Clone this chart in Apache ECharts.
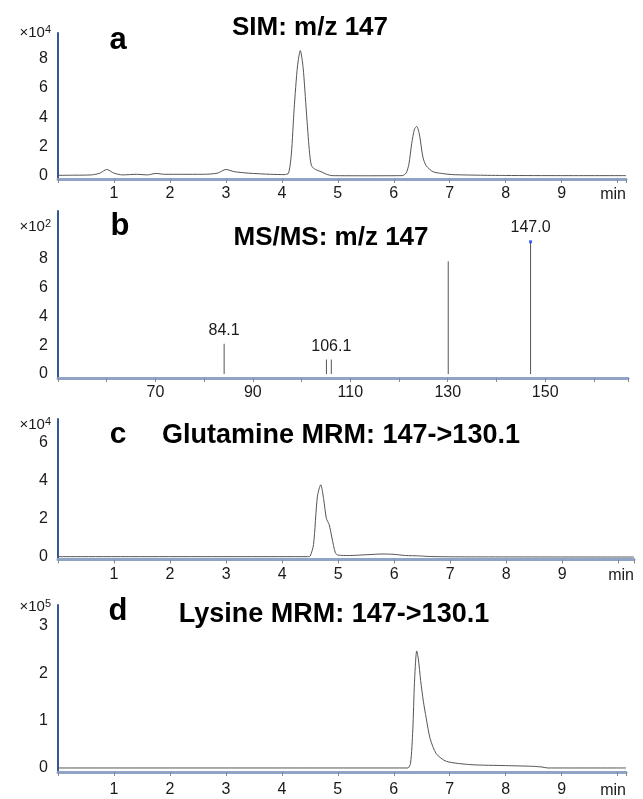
<!DOCTYPE html>
<html><head><meta charset="utf-8">
<script src="https://cdn.jsdelivr.net/npm/echarts@6/dist/echarts.min.js"></script>
<style>html,body{margin:0;padding:0;background:#fff}#c{width:643px;height:799px}</style>
</head><body><div id="c"></div>
<script>
// ---- Panel a: SIM m/z 147 (time / min, intensity x10^4)
const simTime      = [0, 0.3, 0.6, 0.75, 0.87, 1.0, 1.15, 1.4, 1.6, 1.75, 1.9, 2.2, 2.6, 2.85, 3.0, 3.15, 3.4, 3.8, 4.05, 4.12, 4.17, 4.22, 4.28, 4.33, 4.38, 4.44, 4.49, 4.53, 4.6, 4.7, 4.8, 4.9, 5.5, 6.15, 6.22, 6.27, 6.32, 6.37, 6.41, 6.46, 6.52, 6.58, 6.7, 6.85, 7.05, 7.5, 8.0, 9.0, 10.15];
const simIntensity = [0.05, 0.06, 0.08, 0.2, 0.45, 0.2, 0.08, 0.12, 0.08, 0.18, 0.12, 0.12, 0.12, 0.2, 0.45, 0.3, 0.2, 0.12, 0.1, 0.2, 1.5, 4.6, 7.5, 8.55, 7.4, 4.3, 1.8, 0.7, 0.45, 0.3, 0.12, 0.03, 0.02, 0.03, 0.2, 0.8, 2.2, 3.2, 3.38, 2.8, 1.3, 0.7, 0.3, 0.18, 0.1, 0.06, 0.04, 0.03, 0.03];

// ---- Panel b: MS/MS of m/z 147 (m/z, intensity x10^2)
const msmsMz        = [84.1, 105.1, 106.1, 130.1, 147.0];
const msmsIntensity = [2.1, 1.0, 1.0, 7.85, 9.2];
const msmsLabels    = ['84.1', '', '106.1', '', '147.0'];

// ---- Panel c: Glutamine MRM 147->130.1 (time / min, intensity x10^4)
const glnTime      = [0, 4.45, 4.5, 4.56, 4.63, 4.69, 4.74, 4.79, 4.84, 4.89, 4.95, 5.0, 5.2, 5.5, 5.8, 6.0, 6.2, 6.45, 6.6, 7.1, 10.28];
const glnIntensity = [0.02, 0.02, 0.05, 0.65, 3.2, 3.8, 3.07, 2.03, 1.7, 1.0, 0.22, 0.1, 0.08, 0.12, 0.16, 0.14, 0.08, 0.06, 0.03, 0.01, 0.0];

// ---- Panel d: Lysine MRM 147->130.1 (time / min, intensity x10^5)
const lysTime      = [0, 6.25, 6.3, 6.34, 6.37, 6.41, 6.44, 6.48, 6.53, 6.58, 6.65, 6.76, 6.94, 7.38, 8.0, 8.48, 8.65, 8.75, 10.15];
const lysIntensity = [0, 0.0, 0.1, 0.8, 1.8, 2.47, 2.3, 1.85, 1.4, 1.05, 0.62, 0.3, 0.14, 0.07, 0.05, 0.035, 0.02, 0.0, 0];

// ---- Axis tick labels
const yTicksA = [0, 2, 4, 6, 8];
const yTicksB = [0, 2, 4, 6, 8];
const yTicksC = [0, 2, 4, 6];
const yTicksD = [0, 1, 2, 3];
const mzLabelValues = [70, 90, 110, 130, 150];

const titles = ['SIM: m/z 147', 'MS/MS: m/z 147', 'Glutamine MRM: 147->130.1', 'Lysine MRM: 147->130.1'];
const letters = ['a', 'b', 'c', 'd'];
const exponents = ['4', '2', '4', '5'];

const zip = (a, b) => a.map((v, i) => [v, b[i]]);
const FONT = 'Liberation Sans, Arial, sans-serif';
const lblColor = '#1a1a1a';

function xTime(gi, max, margin) {
  return {
    gridIndex: gi, type: 'value', min: 0, max: max, interval: 1,
    axisLine: { onZero: false, lineStyle: { color: '#8fa4c6', width: 3 } },
    axisTick: { show: true, length: 4, lineStyle: { color: '#888', width: 1 } },
    axisLabel: { margin: margin, fontSize: 16, fontFamily: FONT, color: lblColor,
      formatter: v => (Number.isInteger(v) && v >= 1 && v <= 9) ? String(v) : '' },
    splitLine: { show: false },
    name: 'min', nameLocation: 'end', nameGap: 0, nameMoveOverlap: false,
    nameTextStyle: { fontSize: 16, fontFamily: FONT, color: lblColor, align: 'right', verticalAlign: 'top',
      padding: [margin + 1, 0, 0, 0] }
  };
}
function yAx(gi, min, max, ticks, exp, gap) {
  return {
    gridIndex: gi, type: 'value', min: min, max: max,
    axisLine: { show: true, onZero: false, lineStyle: { color: '#34569a', width: 2 } },
    axisTick: { show: false },
    axisLabel: { customValues: ticks, margin: 10, fontSize: 16, fontFamily: FONT, color: lblColor },
    splitLine: { show: false },
    name: '×10{s|' + exp + '}', nameLocation: 'end', nameGap: gap, nameMoveOverlap: false,
    nameTextStyle: { fontSize: 15, fontFamily: FONT, color: lblColor, align: 'right', verticalAlign: 'middle',
      padding: [0, 7, 0, 0],
      rich: { s: { fontSize: 11, fontFamily: FONT, color: lblColor, verticalAlign: 'top', lineHeight: 18 } } }
  };
}

const lineStyle = { color: '#555', width: 1 };

const option = {
  animation: false,
  backgroundColor: '#fff',
  grid: [
    { left: 58, top: 33, width: 568, height: 146 },
    { left: 58, top: 211, width: 570, height: 167 },
    { left: 58, top: 419, width: 576, height: 140.5 },
    { left: 58, top: 605, width: 568, height: 167 }
  ],
  xAxis: [
    xTime(0, 10.15, 7),
    {
      gridIndex: 1, type: 'value', min: 50, max: 167, interval: 10,
      axisLine: { onZero: false, lineStyle: { color: '#8fa4c6', width: 3 } },
      axisTick: { show: true, length: 4, lineStyle: { color: '#888', width: 1 } },
      axisLabel: { margin: 7, fontSize: 16, fontFamily: FONT, color: lblColor,
        formatter: v => mzLabelValues.indexOf(v) >= 0 ? String(v) : '' },
      splitLine: { show: false }
    },
    xTime(2, 10.28, 7),
    xTime(3, 10.15, 10)
  ],
  yAxis: [
    yAx(0, -0.2, 9.75, yTicksA, exponents[0], 0),
    yAx(1, -0.28, 11.34, yTicksB, exponents[1], -16),
    yAx(2, -0.13, 7.26, yTicksC, exponents[2], -6),
    yAx(3, -0.085, 3.44, yTicksD, exponents[3], -2)
  ],
  series: [
    { type: 'line', xAxisIndex: 0, yAxisIndex: 0, data: zip(simTime, simIntensity), showSymbol: false, smooth: 0.25, lineStyle: lineStyle },
    { type: 'bar', xAxisIndex: 1, yAxisIndex: 1, barWidth: 1, itemStyle: { color: '#555' },
      data: msmsMz.map((m, i) => ({ value: [m, msmsIntensity[i]],
        label: { show: msmsLabels[i] !== '', formatter: msmsLabels[i], position: 'top', distance: msmsLabels[i] === '147.0' ? 6 : 5,
          fontSize: 16, fontFamily: FONT, color: lblColor } })) },
    { type: 'scatter', xAxisIndex: 1, yAxisIndex: 1, symbol: 'rect', symbolSize: 3, itemStyle: { color: '#1f3fff' },
      data: [[msmsMz[4], msmsIntensity[4]]] },
    { type: 'line', xAxisIndex: 2, yAxisIndex: 2, data: zip(glnTime, glnIntensity), showSymbol: false, smooth: 0.25, lineStyle: lineStyle },
    { type: 'line', xAxisIndex: 3, yAxisIndex: 3, data: zip(lysTime, lysIntensity), showSymbol: false, smooth: 0.25, lineStyle: lineStyle }
  ],
  graphic: [
    { type: 'text', x: 118, y: 40, style: { text: letters[0], font: 'bold 31px ' + FONT, fill: '#000', align: 'center', verticalAlign: 'middle' } },
    { type: 'text', x: 120, y: 226, style: { text: letters[1], font: 'bold 31px ' + FONT, fill: '#000', align: 'center', verticalAlign: 'middle' } },
    { type: 'text', x: 118, y: 435, style: { text: letters[2], font: 'bold 30px ' + FONT, fill: '#000', align: 'center', verticalAlign: 'middle' } },
    { type: 'text', x: 118, y: 611, style: { text: letters[3], font: 'bold 31px ' + FONT, fill: '#000', align: 'center', verticalAlign: 'middle' } },
    { type: 'text', x: 310, y: 28, style: { text: titles[0], font: 'bold 26px ' + FONT, fill: '#000', align: 'center', verticalAlign: 'middle' } },
    { type: 'text', x: 331, y: 238, style: { text: titles[1], font: 'bold 26px ' + FONT, fill: '#000', align: 'center', verticalAlign: 'middle' } },
    { type: 'text', x: 341, y: 436, style: { text: titles[2], font: 'bold 27px ' + FONT, fill: '#000', align: 'center', verticalAlign: 'middle' } },
    { type: 'text', x: 334, y: 615, style: { text: titles[3], font: 'bold 27px ' + FONT, fill: '#000', align: 'center', verticalAlign: 'middle' } }
  ]
};
const chart = echarts.init(document.getElementById('c'), null, { renderer: 'canvas' });
chart.setOption(option);
</script></body></html>
